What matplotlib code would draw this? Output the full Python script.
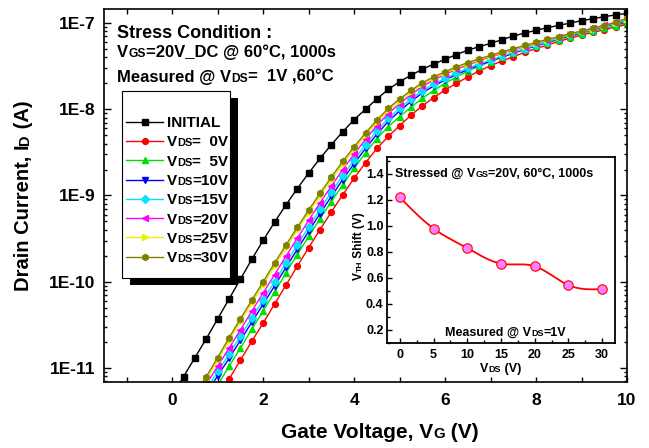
import numpy as np
import matplotlib
matplotlib.use('Agg')
import matplotlib.pyplot as plt
from matplotlib.lines import Line2D
from matplotlib.patches import Rectangle
from matplotlib.ticker import (MultipleLocator, LogLocator, FixedLocator, NullFormatter,
                               FuncFormatter, FormatStrFormatter)

plt.rcParams['font.family'] = ['Liberation Sans', 'DejaVu Sans']
plt.rcParams['font.weight'] = 'bold'

W, H = 649, 448

# gate sweep (V), 0.25 V steps
vg = np.arange(0, 10.001, 0.25)
nan = np.nan

# log10 of drain current (A), one row per volt
id_initial = [-11.32, -11.10, -10.88, -10.66,
              -10.43, -10.20, -9.97, -9.74,
              -9.52, -9.31, -9.11, -8.92,
              -8.74, -8.57, -8.41, -8.26,
              -8.12, -8.00, -7.88, -7.77,
              -7.68, -7.605, -7.537, -7.475,
              -7.421, -7.365, -7.315, -7.274,
              -7.236, -7.193, -7.151, -7.116,
              -7.085, -7.054, -7.027, -7.0,
              -6.973, -6.95, -6.927, -6.905,
              -6.888]
id_vds0 = [nan, nan, nan, nan,
           -11.34, -11.13, -10.91, -10.69,
           -10.48, -10.26, -10.04, -9.82,
           -9.605, -9.395, -9.19, -8.99,
           -8.80, -8.62, -8.455, -8.315,
           -8.19, -8.07, -7.96, -7.865,
           -7.776, -7.70, -7.623, -7.555,
           -7.495, -7.44, -7.39, -7.34,
           -7.295, -7.255, -7.213, -7.175,
           -7.14, -7.108, -7.078, -7.045,
           -7.015]
id_vds5 = [nan, nan, nan, nan,
           -11.20, -10.98, -10.77, -10.55,
           -10.34, -10.12, -9.90, -9.685,
           -9.475, -9.27, -9.07, -8.875,
           -8.685, -8.505, -8.34, -8.20,
           -8.085, -7.975, -7.873, -7.782,
           -7.699, -7.625, -7.557, -7.50,
           -7.447, -7.395, -7.348, -7.305,
           -7.265, -7.228, -7.192, -7.158,
           -7.125, -7.093, -7.062, -7.032,
           -7.0]
id_vds10 = [nan, nan, nan, -11.30,
            -11.09, -10.89, -10.68, -10.47,
            -10.26, -10.05, -9.835, -9.625,
            -9.415, -9.21, -9.01, -8.815,
            -8.63, -8.455, -8.29, -8.14,
            -8.02, -7.91, -7.81, -7.73,
            -7.66, -7.597, -7.54, -7.488,
            -7.44, -7.395, -7.35, -7.306,
            -7.263, -7.222, -7.184, -7.147,
            -7.111, -7.076, -7.043, -7.007,
            -6.972]
id_vds15 = [nan, nan, nan, -11.25,
            -11.04, -10.84, -10.63, -10.42,
            -10.21, -10.0, -9.785, -9.575,
            -9.365, -9.16, -8.96, -8.77,
            -8.585, -8.41, -8.25, -8.105,
            -7.99, -7.882, -7.784, -7.708,
            -7.641, -7.58, -7.525, -7.475,
            -7.429, -7.385, -7.34, -7.297,
            -7.255, -7.215, -7.177, -7.14,
            -7.105, -7.07, -7.037, -7.0,
            -6.965]
id_vds20 = [nan, nan, nan, -11.19,
            -10.98, -10.77, -10.56, -10.34,
            -10.13, -9.92, -9.705, -9.495,
            -9.29, -9.085, -8.89, -8.70,
            -8.52, -8.35, -8.19, -8.05,
            -7.935, -7.83, -7.735, -7.66,
            -7.595, -7.537, -7.485, -7.437,
            -7.393, -7.352, -7.312, -7.273,
            -7.235, -7.198, -7.162, -7.127,
            -7.093, -7.06, -7.027, -6.99,
            -6.955]
id_vds25 = [nan, nan, -11.35, -11.13,
            -10.91, -10.685, -10.465, -10.25,
            -10.035, -9.82, -9.61, -9.40,
            -9.20, -9.005, -8.815, -8.635,
            -8.462, -8.30, -8.15, -8.012,
            -7.90, -7.80, -7.71, -7.64,
            -7.578, -7.52, -7.47, -7.425,
            -7.384, -7.343, -7.304, -7.266,
            -7.23, -7.195, -7.161, -7.128,
            -7.096, -7.064, -7.031, -6.995,
            -6.95]
id_vds30 = [nan, nan, -11.32, -11.10,
            -10.88, -10.65, -10.43, -10.215,
            -10.0, -9.785, -9.575, -9.37,
            -9.17, -8.975, -8.785, -8.605,
            -8.435, -8.275, -8.125, -7.99,
            -7.88, -7.782, -7.692, -7.625,
            -7.564, -7.508, -7.458, -7.415,
            -7.375, -7.335, -7.297, -7.26,
            -7.224, -7.19, -7.157, -7.125,
            -7.093, -7.062, -7.03, -6.993,
            -6.945]

legend_labels = ['INITIAL', '  0V', '  5V', '10V', '15V', '20V', '25V', '30V']
decades = [1e-11, 1e-10, 1e-9, 1e-8, 1e-7]

# threshold voltage shift after stress
stress_vds = [0, 5, 10, 15, 20, 25, 30]
vth_shift = [1.22, 0.98, 0.83, 0.71, 0.69, 0.545, 0.515]

curves = [id_initial, id_vds0, id_vds5, id_vds10, id_vds15, id_vds20, id_vds25, id_vds30]
colors = ['black', '#ff0000', '#00e000', '#0000ff', '#00e5ff', '#ff00ff', '#eeee00', '#808000']
markers = ['s', 'o', '^', 'v', 'D', '<', '>', 'h']
msizes = [3.8, 4.2, 4.4, 4.4, 3.6, 4.4, 4.4, 4.4]


def fx(x):
    return x / W


def fy(y):
    return 1 - y / H


def smooth_curve(x, y, n=300):
    # natural cubic spline through the points
    x = np.asarray(x, float)
    y = np.asarray(y, float)
    m = len(x)
    h = np.diff(x)
    A = np.zeros((m, m))
    r = np.zeros(m)
    A[0, 0] = A[-1, -1] = 1.0
    for i in range(1, m - 1):
        A[i, i - 1] = h[i - 1]
        A[i, i] = 2 * (h[i - 1] + h[i])
        A[i, i + 1] = h[i]
        r[i] = 3 * ((y[i + 1] - y[i]) / h[i] - (y[i] - y[i - 1]) / h[i - 1])
    c = np.linalg.solve(A, r)
    b = (y[1:] - y[:-1]) / h - h * (2 * c[:-1] + c[1:]) / 3
    d = (c[1:] - c[:-1]) / (3 * h)
    xs = np.linspace(x[0], x[-1], n)
    k = np.clip(np.searchsorted(x, xs) - 1, 0, m - 2)
    t = xs - x[k]
    return xs, y[k] + b[k] * t + c[k] * t ** 2 + d[k] * t ** 3


fig = plt.figure(figsize=(W / 100, H / 100), dpi=100)
rend = fig.canvas.get_renderer()


def rich_text(x, y, parts, size, rotation=0, center=False, zorder=10):
    # parts alternate normal / small-caps pieces, e.g. ['V', 'DS', '=1V'];
    # x, y in pixels from the top-left, on the baseline
    texts = []
    for i, s in enumerate(parts):
        fs = size * 0.72 if i % 2 else size
        texts.append(fig.text(0, 0, s, fontsize=fs, rotation=rotation, rotation_mode='anchor',
                              ha='left', va='baseline', zorder=zorder))
    lens = []
    for t in texts:
        e = t.get_window_extent(rend)
        lens.append(e.height if rotation else e.width)
    total = sum(lens)
    if rotation:
        pos = y + total / 2 if center else y
        for t, L in zip(texts, lens):
            t.set_position((fx(x), fy(pos)))
            pos -= L
    else:
        pos = x - total / 2 if center else x
        for t, L in zip(texts, lens):
            t.set_position((fx(pos), fy(y)))
            pos += L
    return texts


# main transfer curves
ax = fig.add_axes([fx(104), fy(382), fx(627) - fx(104), fy(9) - fy(382)])
for vals, c, m, ms in zip(curves, colors, markers, msizes):
    ax.plot(vg, 10 ** np.array(vals), color=c, lw=1.0, marker=m, ms=ms, mfc=c, mec=c)

ax.set_yscale('log')
ax.set_xlim(-1.5, 10)
ax.set_ylim(6.87e-12, 1.455e-7)
ax.xaxis.set_major_locator(FixedLocator([0, 2, 4, 6, 8, 10]))
ax.xaxis.set_minor_locator(FixedLocator([-1, 1, 3, 5, 7, 9]))
ax.yaxis.set_major_locator(FixedLocator(decades))
ax.yaxis.set_minor_locator(LogLocator(base=10, subs=np.arange(2, 10)))
ax.yaxis.set_minor_formatter(NullFormatter())
ax.yaxis.set_major_formatter(FuncFormatter(lambda v, p: '1E%d' % round(np.log10(v))))
ax.tick_params(which='both', direction='in', top=True, right=True, width=1.0, labelsize=12.5)
ax.tick_params(axis='x', which='both', length=3.3, pad=8)
ax.tick_params(axis='y', which='major', length=5, pad=6)
ax.tick_params(axis='y', which='minor', length=2.5)
for sp in ax.spines.values():
    sp.set_linewidth(1.2)

# legend box with a solid drop shadow
fig.add_artist(Rectangle((fx(130), fy(285)), fx(238) - fx(130), fy(98) - fy(285),
                         transform=fig.transFigure, facecolor='black', edgecolor='none', zorder=5))
fig.add_artist(Rectangle((fx(122), fy(278)), fx(230) - fx(122), fy(91) - fy(278),
                         transform=fig.transFigure, facecolor='white', edgecolor='black',
                         lw=0.8, zorder=6))
for i, (lab, c, m, ms) in enumerate(zip(legend_labels, colors, markers, msizes)):
    yc = 121.7 + i * 19.27
    fig.add_artist(Line2D([fx(126), fx(163)], [fy(yc), fy(yc)], transform=fig.transFigure,
                          color=c, lw=1.0, zorder=7))
    fig.add_artist(Line2D([fx(144.5)], [fy(yc)], transform=fig.transFigure, color=c,
                          marker=m, ms=ms, mfc=c, mec=c, zorder=7))
    if i == 0:
        rich_text(167, yc + 5.5, [lab], 11)
    else:
        rich_text(167, yc + 5.5, ['V', 'DS', '=' + lab], 11)

# stress condition notes
rich_text(117, 38, ['Stress Condition :'], 13)
rich_text(117, 57, ['V', 'GS', '=20V_DC @ 60°C, 1000s'], 12)
rich_text(117, 82, ['Measured @ V', 'DS', '=  1V ,60°C'], 12)

rich_text(380, 438, ['Gate Voltage, V', 'G', ' (V)'], 15, center=True)
rich_text(29, 196, ['Drain Current, I', 'D', ' (A)'], 14.5, rotation=90, center=True)

# inset: threshold shift vs stress drain bias
ins = fig.add_axes([fx(387), fy(343), fx(615) - fx(387), fy(157) - fy(343)])
ins.set_zorder(8)
xs, ys = smooth_curve(stress_vds, vth_shift)
ins.plot(xs, ys, color='red', lw=1.3)
ins.plot(stress_vds, vth_shift, ls='none', marker='o', ms=6.8, mfc='#ff7fff', mec='#ff0000', mew=0.8)
ins.set_xlim(-1.9, 31.9)
ins.set_ylim(0.1, 1.53)
ins.xaxis.set_major_locator(MultipleLocator(5))
ins.xaxis.set_minor_locator(MultipleLocator(2.5))
ins.yaxis.set_major_locator(FixedLocator([0.2, 0.4, 0.6, 0.8, 1.0, 1.2, 1.4]))
ins.yaxis.set_minor_locator(MultipleLocator(0.1))
ins.yaxis.set_major_formatter(FormatStrFormatter('%.1f'))
ins.tick_params(which='both', direction='in', width=1.0, labelsize=9)
ins.tick_params(which='major', length=3.5)
ins.tick_params(which='minor', length=2)
ins.tick_params(axis='x', pad=4)
ins.tick_params(axis='y', pad=2.5)
for sp in ins.spines.values():
    sp.set_linewidth(1.3)

rich_text(395, 177, ['Stressed @ V', 'GS', '=20V, 60°C, 1000s'], 9)
rich_text(445, 336, ['Measured @ V', 'DS', '=1V'], 9)
rich_text(501, 372, ['V', 'DS', ' (V)'], 9, center=True)
rich_text(362, 246, ['V', 'TH', ' Shift (V)'], 8.5, rotation=90, center=True)

fig.savefig('out.png', dpi=100)
